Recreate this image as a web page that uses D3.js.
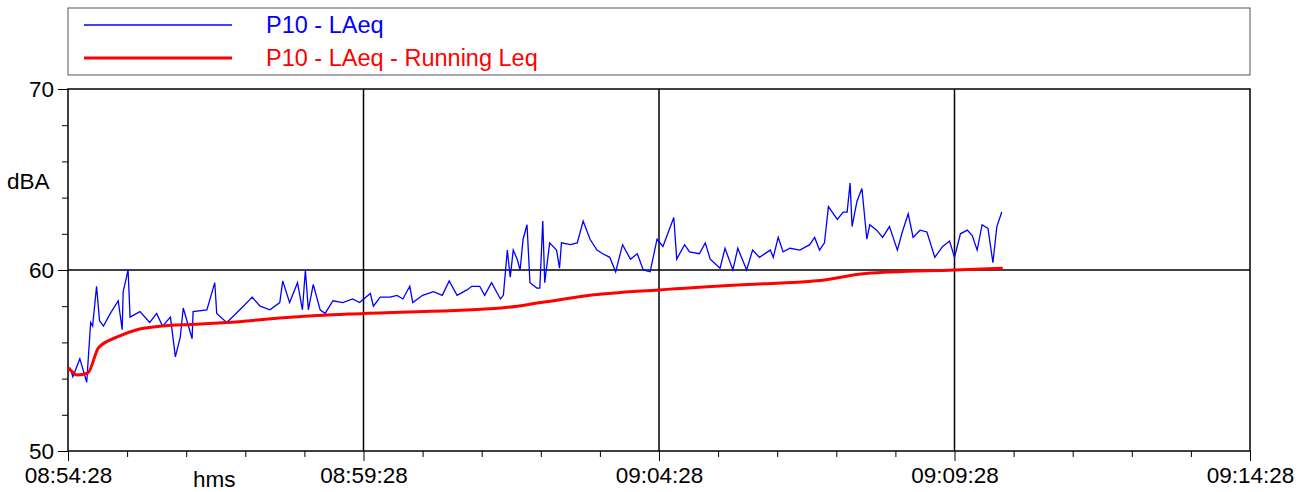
<!DOCTYPE html>
<html><head><meta charset="utf-8">
<script src="https://cdn.jsdelivr.net/npm/d3@7"></script>
<style>body{margin:0;background:#fff}text{font-family:Arial,"Liberation Sans",sans-serif}</style>
</head><body><svg id="c" width="1308" height="492"></svg>
<script>
// seconds after 08:54:28
var laeqT = [2,5,12,19,23,25,29,32,36,43,51,55,56,61,63,73,83,90,96,104,109,114,117,126,127,141,149,151,161,167,178,187,195,205,215,218,225,233,238,241,244,249,256,261,269,279,289,296,307,310,317,327,334,340,347,350,360,371,380,387,395,405,410,418,423,430,439,442,446,449,452,456,459,462,466,469,476,479,482,484,489,496,499,501,510,517,523,530,537,543,550,556,563,571,578,584,591,598,604,615,618,626,631,641,647,652,662,667,675,680,689,695,702,713,716,721,726,733,743,753,758,763,768,772,781,787,791,794,796,801,806,811,814,821,827,834,842,847,853,858,865,872,880,888,895,900,906,913,918,923,928,934,939,943,948];
var laeqV = [54.6,54.1,55.1,53.8,57.1,56.9,59.1,57.2,56.9,57.6,58.3,56.7,58.8,60.0,57.4,57.7,57.1,57.6,56.9,57.4,55.2,56.3,57.9,56.2,57.7,57.8,59.3,57.6,57.1,57.4,58.0,58.5,58.0,57.8,58.2,59.4,58.2,59.3,57.8,60.0,57.8,59.2,57.8,57.6,58.3,58.2,58.4,58.2,58.7,58.0,58.5,58.5,58.6,58.4,59.1,58.2,58.6,58.8,58.6,59.4,58.6,58.9,59.1,59.1,58.6,59.3,58.4,58.6,61.1,59.6,61.1,60.6,60.0,61.7,62.5,59.3,59.0,59.0,62.7,59.3,61.5,61.1,60.1,61.5,61.4,61.5,62.7,61.7,61.1,60.9,60.7,59.9,61.4,60.6,60.9,60.0,59.9,61.7,61.3,62.9,60.6,61.4,61.0,60.9,61.5,60.6,60.1,61.2,60.0,61.2,60.0,61.1,60.7,61.1,60.7,61.8,61.0,61.2,61.1,61.4,61.8,61.1,61.5,63.5,62.8,63.2,63.2,64.8,62.4,63.8,64.5,61.7,62.5,62.2,61.8,62.4,61.1,62.1,63.1,61.8,62.2,62.1,60.7,61.3,61.6,60.7,62.0,62.2,61.9,61.1,62.5,62.3,60.4,62.4,63.2,62.9];
var leqT = [0,2,9,20,31,50,70,95,130,161,229,300,440,480,530,600,690,760,810,900,949];
var leqV = [54.6,54.5,54.2,54.3,55.7,56.3,56.7,56.9,57.0,57.1,57.4,57.6,57.9,58.2,58.6,58.9,59.2,59.4,59.8,60.0,60.1];
var seriesNames = ["P10 - LAeq", "P10 - LAeq - Running Leq"];
var xLabels = ["08:54:28","08:59:28","09:04:28","09:09:28","09:14:28"];
var yLabels = [50, 60, 70];

var svg = d3.select('#c');
var L = 68, R = 1250, T = 89, B = 451;
var x = d3.scaleLinear().domain([0, 1200]).range([L, R]);
var y = d3.scaleLinear().domain([50, 70]).range([B, T]);

// grid
svg.selectAll('.vg').data([300,600,900]).enter().append('line')
  .attr('x1', function (d) { return x(d); }).attr('x2', function (d) { return x(d); })
  .attr('y1', T).attr('y2', B).attr('stroke', '#000').attr('stroke-width', 1.5);
svg.append('line').attr('x1', L).attr('x2', R).attr('y1', y(60)).attr('y2', y(60))
  .attr('stroke', '#000').attr('stroke-width', 1.5);

// axes
var ya = svg.append('g').attr('transform', 'translate(' + L + ',0)')
  .call(d3.axisLeft(y).tickValues(d3.range(50, 71, 2)).tickSize(8).tickFormat(function (d) {
    return yLabels.indexOf(d) >= 0 ? d : '';
  }));
ya.selectAll('.tick line').attr('x2', function (d) { return yLabels.indexOf(d) >= 0 ? -10 : -6; });
var xa = svg.append('g').attr('transform', 'translate(0,' + B + ')')
  .call(d3.axisBottom(x).tickValues(d3.range(0, 1201, 60)).tickSize(8).tickFormat(function (d) {
    return d % 300 == 0 ? xLabels[d / 300] : '';
  }));
xa.selectAll('.tick line').attr('y2', function (d) { return d % 300 == 0 ? 10 : 6; });
svg.selectAll('.domain').remove();
svg.selectAll('.tick text').attr('font-size', 22.5).attr('fill', '#000')
  .attr('font-family', 'Arial,"Liberation Sans",sans-serif');
xa.selectAll('.tick text').attr('dy', '0.95em');
ya.selectAll('.tick text').attr('dy', '0.35em').attr('x', -14);
svg.selectAll('.tick line').attr('stroke', '#000');

svg.append('rect').attr('x', L).attr('y', T).attr('width', R - L).attr('height', B - T)
  .attr('fill', 'none').attr('stroke', '#000').attr('stroke-width', 1.5);
svg.append('text').attr('x', 7).attr('y', 189).attr('font-size', 22.5).text('dBA');
svg.append('text').attr('x', 193).attr('y', 487).attr('font-size', 22.5).text('hms');

// lines
var line = d3.line().x(function (d) { return x(d[0]); }).y(function (d) { return y(d[1]); });
svg.append('path').datum(laeqT.map(function (t, i) { return [t, laeqV[i]]; }))
  .attr('d', line).attr('fill', 'none').attr('stroke', '#0000ff').attr('stroke-width', 1.3);
svg.append('path').datum(leqT.map(function (t, i) { return [t, leqV[i]]; }))
  .attr('d', line.curve(d3.curveMonotoneX)).attr('fill', 'none').attr('stroke', '#ff0000').attr('stroke-width', 3);

// legend
svg.append('rect').attr('x', 68).attr('y', 8).attr('width', 1182).attr('height', 67)
  .attr('fill', '#fff').attr('stroke', '#555');
var leg = svg.selectAll('.lg').data(seriesNames).enter().append('g')
  .attr('transform', function (d, i) { return 'translate(0,' + (25 + i * 33) + ')'; });
leg.append('line').attr('x1', 84).attr('x2', 232).attr('stroke', function (d, i) { return i ? '#ff0000' : '#0000ff'; })
  .attr('stroke-width', function (d, i) { return i ? 3 : 1.3; });
leg.append('text').attr('x', 266).attr('dy', '0.35em').attr('font-size', 23.5)
  .attr('fill', function (d, i) { return i ? '#ff0000' : '#0000ff'; }).text(function (d) { return d; });
</script></body></html>
